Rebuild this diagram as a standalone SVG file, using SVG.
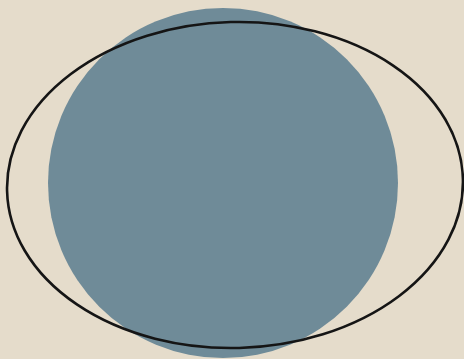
<svg xmlns="http://www.w3.org/2000/svg" width="464" height="359" viewBox="0 0 464 359">
<rect width="464" height="359" fill="#e5dccb"/>
<circle id="disc" cx="223" cy="183" r="175" fill="#6f8b98"/>
<ellipse id="orbit" cx="235" cy="185" rx="228" ry="163" transform="rotate(-1.5 235 185)" fill="none" stroke="#151515" stroke-width="2.6"/>
</svg>
